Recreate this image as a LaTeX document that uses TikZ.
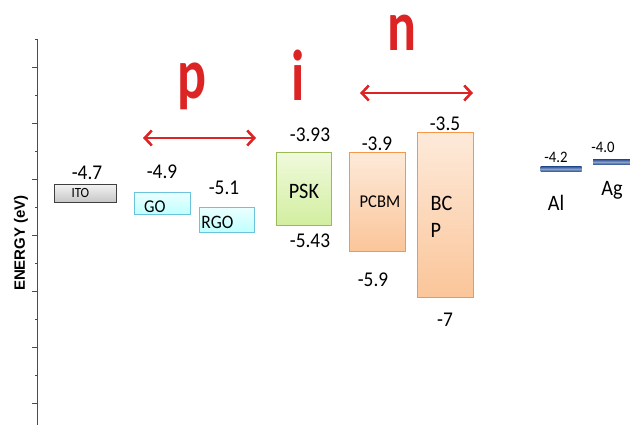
\documentclass[tikz,border=0pt]{standalone}
\usepackage{fontspec}
\setmainfont{Carlito}[FakeStretch=0.92]
\newfontfamily\axisfont{Liberation Sans}
\newfontfamily\bigfont{Carlito}[FakeStretch=0.75]
\usetikzlibrary{arrows.meta,positioning,calc}
\definecolor{pinred}{HTML}{DD2424}
\definecolor{goline}{HTML}{6CC4DC}
\definecolor{pskline}{HTML}{9BBB59}
\definecolor{psktop}{HTML}{F0FADC}
\definecolor{pskbot}{HTML}{D2EEA0}
\definecolor{etlline}{HTML}{F79646}
\definecolor{metal}{HTML}{2F5597}

\begin{document}
\begin{tikzpicture}[x=1pt,y=-1pt,
    layer/.style={draw,line width=0.8pt,inner sep=0pt,anchor=north west},
    itobox/.style={layer,draw=black!75,top color=gray!10,bottom color=gray!45},
    gobox/.style={layer,draw=goline,top color=cyan!8,bottom color=cyan!25},
    pskbox/.style={layer,draw=pskline,top color=psktop,bottom color=pskbot},
    etlbox/.style={layer,draw=etlline,top color=etlline!20,bottom color=etlline!55},
    metalbar/.style={inner sep=0pt,minimum height=5pt,top color=metal,bottom color=metal,middle color=metal!55},
    val/.style={inner sep=0pt,font=\fontsize{21}{25}\selectfont},
    smallval/.style={inner sep=0pt,font=\fontsize{16}{19}\selectfont},
    pin/.style={anchor=base,inner sep=0pt,text=pinred,font=\bigfont\bfseries\fontsize{72}{72}\selectfont},
    span/.style={draw=pinred,line width=2.6pt,{Straight Barb[length=7pt,width=15pt]}-{Straight Barb[length=7pt,width=15pt]}}]
    \useasboundingbox (0,0) rectangle (630,425);
    % energy axis
    \draw[line width=0.8pt,black!70] (37,39) -- (37,425);
    \foreach \t in {39,95,...,375} \draw[line width=0.8pt,black!70] (35,\t) -- (37,\t);
    \foreach \t in {67,123,...,403} \draw[line width=0.8pt,black!70] (32,\t) -- (37,\t);
    \node[rotate=90,font=\axisfont\bfseries\fontsize{15}{18}\selectfont] (axis) at (21,243) {ENERGY (eV)};
    % layers
    \node[itobox,minimum width=62pt,minimum height=18pt,label={[xshift=-5pt,font=\fontsize{14}{16}\selectfont]center:ITO}] (ito) at (54,184) {};
    \node[gobox,minimum width=56pt,minimum height=22pt,label={[xshift=-7.5pt,yshift=-3pt,font=\fontsize{18}{21}\selectfont]center:GO}] (go) at (134,192) {};
    \node[gobox,minimum width=55pt,minimum height=25pt,label={[xshift=-9.5pt,yshift=-2.5pt,font=\fontsize{19}{22}\selectfont]center:RGO}] (rgo) at (199,207) {};
    \node[pskbox,minimum width=55pt,minimum height=73pt,label={[yshift=-2.5pt,font=\fontsize{22}{25}\selectfont]center:PSK}] (psk) at (276,152) {};
    \node[etlbox,minimum width=56pt,minimum height=99pt,label={[xshift=2.5pt,font=\fontsize{18}{21}\selectfont]center:PCBM}] (pcbm) at (349,152) {};
    \node[etlbox,minimum width=56pt,minimum height=165pt,label={[xshift=-4pt,yshift=-2pt,align=left,font=\fontsize{22}{27}\selectfont]center:BC\\P}] (bcp) at (417,132) {};
    \node[metalbar,minimum width=41pt] (al) at (561,169) {};
    \node[metalbar,minimum width=38pt] (ag) at (612,162) {};
    % levels
    \node[val] (ito-v) at (87,172.5) {-4.7};
    \node[val] (go-v) at (162,172) {-4.9};
    \node[val] (rgo-v) at (224,188) {-5.1};
    \node[val] (psk-c) at (310,135) {-3.93};
    \node[val] (psk-h) at (310,241) {-5.43};
    \node[val] (pcbm-c) at (377,144) {-3.9};
    \node[val] (pcbm-h) at (373,280) {-5.9};
    \node[val] (bcp-c) at (445,124) {-3.5};
    \node[val] (bcp-h) at (445,320) {-7};
    \node[smallval] (al-v) at (556,157) {-4.2};
    \node[smallval] (ag-v) at (603,147) {-4.0};
    \node[val,font=\fontsize{22}{25}\selectfont,text depth=0pt] (al-n) at (556,203) {Al};
    \node[val,font=\fontsize{22}{25}\selectfont,text depth=0pt] (ag-n) at (612,188.5) {Ag};
    % p-i-n regions
    \node[pin] (p) at (192,99) {p};
    \node[pin] (i) at (298,101) {i};
    \node[pin] (n) at (402,51) {n};
    \coordinate (p-l) at (143,138);
    \coordinate (p-r) at (256,138);
    \coordinate (n-l) at (360,93);
    \coordinate (n-r) at (473,93);
    \draw[span] (p-l) -- (p-r);
    \draw[span] (n-l) -- (n-r);
\end{tikzpicture}
\end{document}
